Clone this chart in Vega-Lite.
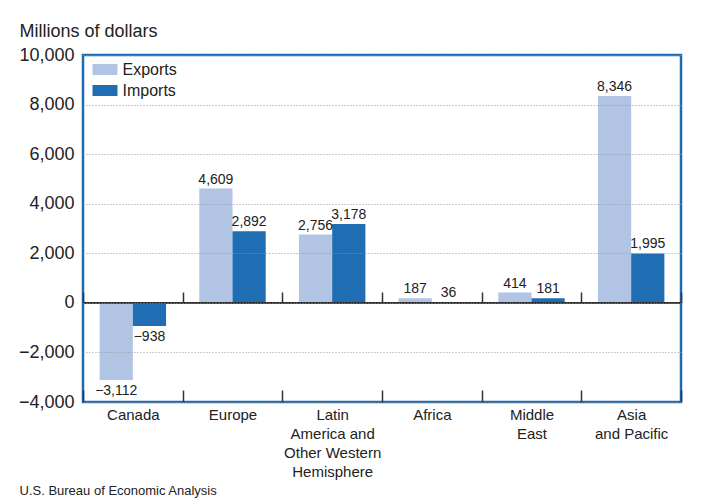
{
  "$schema": "https://vega.github.io/schema/vega-lite/v6.json",
  "width": 598,
  "height": 347,
  "autosize": "none",
  "padding": {"left": 83, "top": 55, "right": 22, "bottom": 99},
  "background": "white",
  "config": {
    "view": {"stroke": "#1f6bb3", "strokeWidth": 2.5},
    "font": "Liberation Sans"
  },
  "data": {
    "values": [
      {"region": "Canada", "flow": "Exports", "value": -3112},
      {"region": "Canada", "flow": "Imports", "value": -938},
      {"region": "Europe", "flow": "Exports", "value": 4609},
      {"region": "Europe", "flow": "Imports", "value": 2892},
      {"region": "Latin America and Other Western Hemisphere", "flow": "Exports", "value": 2756},
      {"region": "Latin America and Other Western Hemisphere", "flow": "Imports", "value": 3178},
      {"region": "Africa", "flow": "Exports", "value": 187},
      {"region": "Africa", "flow": "Imports", "value": 36},
      {"region": "Middle East", "flow": "Exports", "value": 414},
      {"region": "Middle East", "flow": "Imports", "value": 181},
      {"region": "Asia and Pacific", "flow": "Exports", "value": 8346},
      {"region": "Asia and Pacific", "flow": "Imports", "value": 1995}
    ]
  },
  "resolve": {"axis": {"x": "independent"}},
  "layer": [
    {
      "mark": {"type": "bar"},
      "encoding": {
        "x": {
          "field": "region", "type": "nominal", "sort": null,
          "scale": {"paddingInner": 0, "paddingOuter": 0},
          "axis": {
            "orient": "bottom",
            "title": "U.S. Bureau of Economic Analysis",
            "titleX": -64, "titleY": 92, "titleAlign": "left", "titleBaseline": "alphabetic",
            "titleFontSize": 13, "titleFontWeight": "normal", "titleColor": "#222",
            "labelAngle": 0, "labelFontSize": 15, "labelColor": "#222", "labelLineHeight": 19,
            "labelPadding": 17, "labelBaseline": "top",
            "labelExpr": "datum.value == 'Latin America and Other Western Hemisphere' ? ['Latin','America and','Other Western','Hemisphere'] : datum.value == 'Middle East' ? ['Middle','East'] : datum.value == 'Asia and Pacific' ? ['Asia','and Pacific'] : datum.value",
            "domain": false, "ticks": true, "tickBand": "extent", "tickSize": -12, "tickColor": "#333", "tickWidth": 1.5,
            "grid": false
          }
        },
        "xOffset": {"field": "flow", "sort": ["Exports", "Imports"], "scale": {"paddingInner": 0, "paddingOuter": 0.5}},
        "y": {
          "field": "value", "type": "quantitative",
          "scale": {"domain": [-4000, 10000], "nice": false, "zero": false},
          "axis": {
            "values": [-4000, -2000, 0, 2000, 4000, 6000, 8000, 10000],
            "format": ",d",
            "title": "Millions of dollars",
            "titleAngle": 0, "titleX": -64, "titleY": -19, "titleAlign": "left", "titleBaseline": "alphabetic",
            "titleFontSize": 18, "titleFontWeight": "normal", "titleColor": "#222",
            "labelFontSize": 18, "labelColor": "#222", "labelPadding": 9,
            "domain": false, "ticks": false,
            "grid": true, "gridColor": "#999", "gridDash": [1, 2], "gridWidth": 1,
            "zindex": 1
          }
        },
        "color": {
          "field": "flow", "type": "nominal",
          "scale": {"domain": ["Exports", "Imports"], "range": ["#b2c4e4", "#1f6db2"]},
          "legend": {
            "orient": "none", "legendX": 9.5, "legendY": 2, "title": null,
            "padding": 0, "rowPadding": -5,
            "symbolType": "M-1,-0.44H1V0.44H-1Z", "symbolSize": 625, "symbolStrokeWidth": 0,
            "labelFontSize": 16, "labelColor": "#222", "labelOffset": 5
          }
        }
      }
    },
    {
      "mark": {"type": "rule", "color": "#333", "strokeWidth": 1.5},
      "encoding": {"y": {"datum": 0, "type": "quantitative"}}
    },
    {
      "transform": [{"filter": "datum.value >= 0"}],
      "mark": {"type": "text", "baseline": "alphabetic", "dy": -5, "fontSize": 14, "color": "#222"},
      "encoding": {
        "x": {
          "field": "region", "type": "nominal", "sort": null,
          "axis": {
            "orient": "bottom",
            "offset": -99, "labels": false, "domain": false, "title": null, "grid": false,
            "ticks": true, "tickBand": "extent", "tickSize": -11, "tickColor": "#333", "tickWidth": 1.5
          }
        },
        "xOffset": {"field": "flow", "sort": ["Exports", "Imports"]},
        "y": {"field": "value", "type": "quantitative"},
        "text": {"field": "value", "type": "quantitative", "format": ",d"}
      }
    },
    {
      "transform": [{"filter": "datum.value < 0"}],
      "mark": {"type": "text", "baseline": "top", "dy": 4, "fontSize": 14, "color": "#222"},
      "encoding": {
        "x": {"field": "region", "type": "nominal", "sort": null, "axis": null},
        "xOffset": {"field": "flow", "sort": ["Exports", "Imports"]},
        "y": {"field": "value", "type": "quantitative"},
        "text": {"field": "value", "type": "quantitative", "format": ",d"}
      }
    }
  ]
}
